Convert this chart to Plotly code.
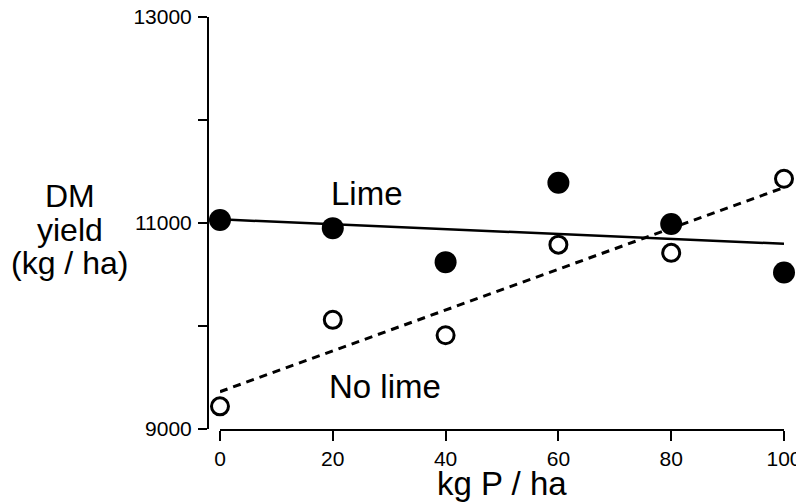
import numpy as np
import plotly.graph_objects as go

# ---- data ----
p_rates = [0, 20, 40, 60, 80, 100]
lime_yield = [11030, 10950, 10620, 11390, 10990, 10520]
nolime_yield = [9220, 10060, 9910, 10790, 10710, 11430]
y_tick_vals = [9000, 10000, 11000, 12000, 13000]
y_tick_text = ["9000", "", "11000", "", "13000"]
x_tick_vals = [0, 20, 40, 60, 80, 100]
y_title_lines = ["DM", "yield", "(kg / ha)"]

# linear fits (drawn from the data)
lime_fit = np.polyfit(p_rates, lime_yield, 1)
nolime_fit = np.polyfit(p_rates, nolime_yield, 1)
x_line = [p_rates[0], p_rates[-1]]

FONT = "Liberation Sans, Arial, Helvetica, sans-serif"

fig = go.Figure()

fig.add_trace(go.Scatter(
    x=x_line, y=np.polyval(lime_fit, x_line), mode="lines",
    line=dict(color="black", width=2.5), cliponaxis=False, showlegend=False))
fig.add_trace(go.Scatter(
    x=x_line, y=np.polyval(nolime_fit, x_line), mode="lines",
    line=dict(color="black", width=3, dash="8px,6px"), cliponaxis=False, showlegend=False))

fig.add_trace(go.Scatter(
    x=p_rates, y=lime_yield, mode="markers", name="Lime",
    marker=dict(symbol="circle", size=22, color="black"),
    cliponaxis=False, showlegend=False))
fig.add_trace(go.Scatter(
    x=p_rates, y=nolime_yield, mode="markers", name="No lime",
    marker=dict(symbol="circle", size=17, color="white",
                line=dict(color="black", width=3)),
    cliponaxis=False, showlegend=False))

# y-title lines, tightly stacked like the reference
title_annots = []
for i, line in enumerate(y_title_lines):
    title_annots.append(dict(
        text=line, x=-0.2396, y=0.5655 - i * 0.0815,
        xref="paper", yref="paper", showarrow=False,
        xanchor="center", yanchor="middle",
        font=dict(size=32, family=FONT)))

# page body has an 8px margin, so the figure is sized to fit the window
fig.update_layout(
    width=796, height=495,
    margin=dict(l=200, r=20, t=9, b=74, autoexpand=False),
    plot_bgcolor="white", paper_bgcolor="white",
    font=dict(family=FONT, color="black"),
    xaxis=dict(
        domain=[0.0208, 1], range=[0, 100], automargin=False,
        tickmode="array", tickvals=x_tick_vals,
        ticks="outside", ticklen=10, tickwidth=2, tickcolor="black",
        showline=True, linecolor="black", linewidth=2,
        showgrid=False, zeroline=False,
        ticklabeloverflow="allow",
        tickfont=dict(size=21, family=FONT),
    ),
    yaxis=dict(
        anchor="free", position=0, automargin=False,
        range=[9000, 13000],
        tickmode="array", tickvals=y_tick_vals, ticktext=y_tick_text,
        ticks="outside", ticklen=9, tickwidth=2, tickcolor="black",
        showline=True, linecolor="black", linewidth=2,
        showgrid=False, zeroline=False,
        ticklabelstandoff=2, ticklabeloverflow="allow",
        tickfont=dict(size=21, family=FONT),
    ),
    annotations=[
        dict(text="Lime", x=26, y=11290, xref="x", yref="y",
             showarrow=False, font=dict(size=33, family=FONT)),
        dict(text="No lime", x=29.3, y=9410, xref="x", yref="y",
             showarrow=False, font=dict(size=33, family=FONT)),
        dict(text="kg P / ha", x=50, y=0, xref="x", yref="paper",
             yshift=-54, showarrow=False, yanchor="middle",
             font=dict(size=33, family=FONT)),
    ] + title_annots,
)

fig.write_html("out.html")
